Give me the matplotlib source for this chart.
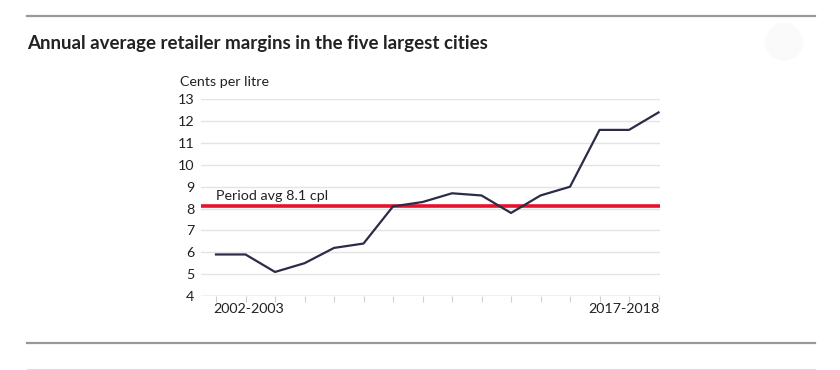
import matplotlib.pyplot as plt
from matplotlib.lines import Line2D
from matplotlib.patches import Ellipse
import numpy as np

plt.rcParams['font.family'] = ['Lato', 'DejaVu Sans']

# Financial years 2002-2003 .. 2017-2018
years = ["2002-2003", "2003-2004", "2004-2005", "2005-2006", "2006-2007",
         "2007-2008", "2008-2009", "2009-2010", "2010-2011", "2011-2012",
         "2012-2013", "2013-2014", "2014-2015", "2015-2016", "2016-2017",
         "2017-2018"]
margins = [5.9, 5.9, 5.1, 5.5, 6.2, 6.4, 8.1, 8.3, 8.7, 8.6,
           7.8, 8.6, 9.0, 11.6, 11.6, 12.4]
period_avg = 8.1
y_ticks = [4, 5, 6, 7, 8, 9, 10, 11, 12, 13]

W, H = 840, 370
fig = plt.figure(figsize=(W / 100, H / 100), dpi=100)
fig.patch.set_facecolor("white")

# frame rules
fig.add_artist(Line2D([27 / W, 815 / W], [1 - 15.5 / H] * 2, color="#999999", lw=1.6))
fig.add_artist(Line2D([27 / W, 815 / W], [1 - 342.5 / H] * 2, color="#999999", lw=1.6))
fig.add_artist(Line2D([27 / W, 815 / W], [1 - 369 / H] * 2, color="#dddddd", lw=0.8))
fig.add_artist(Ellipse((784 / W, 1 - 42 / H), 38 / W, 38 / H, transform=fig.transFigure,
                       facecolor="#fafafa", edgecolor="none"))

fig.text(27 / W, 1 - 44 / H, "Annual average retailer margins in the five largest cities",
         fontsize=13.5, fontweight="bold", color="#222222", va="center", ha="left")

# axes box
x0, x1 = 201.25, 660.0
y_top, y_bot = 99.3, 296.0
ax = fig.add_axes([x0 / W, 1 - y_bot / H, (x1 - x0) / W, (y_bot - y_top) / H])
x = np.arange(len(years))
ax.set_xlim(-0.5, 15.05)
ax.set_ylim(4, 13)

for s in ax.spines.values():
    s.set_visible(False)

ax.set_yticks(y_ticks)
ax.yaxis.grid(True, color="#e4e4e4", lw=1)
ax.set_axisbelow(True)
ax.tick_params(axis="y", length=0, pad=5, labelsize=10.3, labelcolor="#222222")
ax.axhline(4, color="#cccccc", lw=1, zorder=1)

ax.set_xticks(x)
ax.set_xticklabels([])
ax.tick_params(axis="x", length=4, color="#d0d0d0", width=0.8)

ax.axhline(period_avg, color="#e8112d", lw=2.6, zorder=2)
ax.plot(x, margins, color="#2b2c47", lw=1.6, zorder=3)

ax.text(0, period_avg + 0.2, f"Period avg {period_avg} cpl", fontsize=10.3,
        color="#222222", ha="left", va="bottom")

ax.text(-0.1, -0.035, years[0], transform=ax.get_xaxis_transform(), fontsize=10.3,
        color="#222222", ha="left", va="top")
ax.text(15.05, -0.035, years[-1], transform=ax.get_xaxis_transform(), fontsize=10.3,
        color="#222222", ha="right", va="top")

fig.text(180 / W, 1 - 82 / H, "Cents per litre", fontsize=10.3, color="#222222",
         ha="left", va="center")

fig.savefig("out.png", dpi=100, facecolor="white")
